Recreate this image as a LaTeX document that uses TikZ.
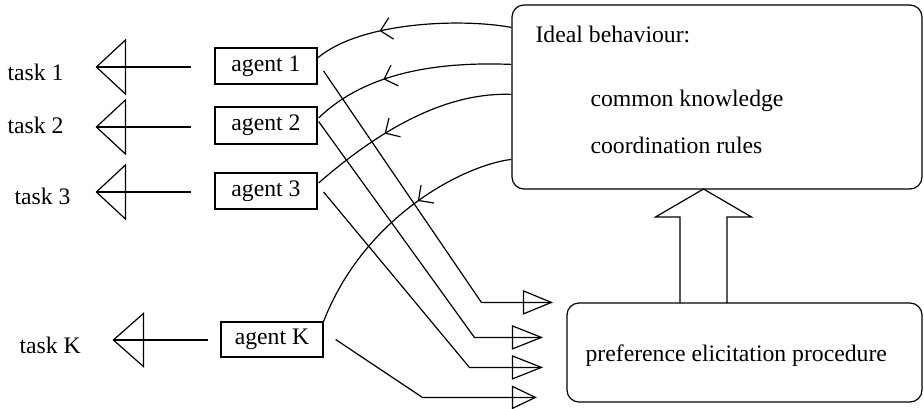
\documentclass[tikz,border=0pt]{standalone}
\usepackage{fontspec}
\setmainfont{Liberation Serif}
\usetikzlibrary{arrows.meta,decorations.markings,calc}
\newcommand{\fsz}{\fontsize{23.7}{28}\selectfont}
\begin{document}
\begin{tikzpicture}[x=1pt,y=-1pt,line width=1.2pt,
  agentbox/.style={draw,minimum width=102pt,minimum height=36pt,inner sep=0pt,font=\fsz},
  txt/.style={inner sep=0pt,anchor=base west,font=\fsz},
  bigbox/.style={draw,rounded corners=12pt,inner sep=0pt},
  chev/.style={postaction={decorate},decoration={markings,mark=at position #1 with {\arrow[line width=1.2pt]{Straight Barb[length=11pt,width=22pt]}}}},
  tri/.style n args={2}{postaction={decorate},decoration={markings,mark=at position 1 with {\draw[line join=miter,line width=1.2pt] (0pt,0pt) -- (-#1,#2) -- (-#1,-#2) -- cycle;}}}]
\useasboundingbox (0,0) rectangle (924,408);

% big boxes
\node[bigbox,minimum width=410pt,minimum height=184pt] (ideal) at (717,97) {};
\node[bigbox,minimum width=355pt,minimum height=99pt] (pref) at (744.5,352.5) {};
\node[txt] (ib) at (535,42) {Ideal behaviour:};
\node[txt] (ck) at (590,106) {common knowledge};
\node[txt] (cr) at (590,153) {coordination rules};
\node[txt] (pe) at (585,361) {preference elicitation procedure};

% agents
\node[agentbox] (a1) at (266,66) {agent 1};
\node[agentbox,minimum height=37pt] (a2) at (266,125.5) {agent 2};
\node[agentbox] (a3) at (266,191) {agent 3};
\node[agentbox,minimum height=35pt] (aK) at (272,339.5) {agent K};

% tasks
\node[txt] (t1) at (7,80) {task 1};
\node[txt] (t2) at (7,133) {task 2};
\node[txt] (t3) at (14,204) {task 3};
\node[txt] (tK) at (19,353) {task K};

% agent -> task arrows
\draw[tri={29pt}{27pt}] ($(a1.west)+(-23,1)$) -- ($(a1.west)+(-118,1)$);
\draw[tri={29pt}{27pt}] ($(a2.west)+(-23,1.5)$) -- ($(a2.west)+(-118,1.5)$);
\draw[tri={29pt}{27pt}] ($(a3.west)+(-23,1)$) -- ($(a3.west)+(-118,1)$);
\draw[tri={30pt}{26.5pt}] ($(aK.west)+(-12,0.5)$) -- ($(aK.west)+(-107,0.5)$);

% ideal -> agents curves
\draw[chev=0.66] ($(ideal.north west)+(0,23)$) .. controls (460,18) and (360,22) .. ($(a1.east)+(0,-8)$);
\draw[chev=0.63] ($(ideal.north west)+(0,60)$) .. controls (450,62) and (370,68) .. ($(a2.east)+(1,-7.5)$);
\draw[chev=0.62] ($(ideal.north west)+(0,90)$) .. controls (450,92) and (385,125) .. ($(a3.east)+(1,-8)$);
\draw[chev=0.4] ($(ideal.north west)+(0,155)$) .. controls (465,165) and (365,215) .. (aK.north east);

% agents -> preference elicitation
\draw[tri={28pt}{11.5pt}] ($(a1.east)+(6,5)$) -- ($(pref.north west)+(-85,0)$) -- ($(pref.north west)+(-15,0)$);
\draw[tri={29pt}{11.5pt}] ($(a2.east)+(1,-4)$) -- ($(pref.north west)+(-92,35)$) -- ($(pref.north west)+(-25,35)$);
\draw[tri={29pt}{11.5pt}] ($(a3.east)+(6,1)$) -- ($(pref.north west)+(-97,65)$) -- ($(pref.north west)+(-25,65)$);
\draw[tri={23pt}{11pt}] ($(aK.east)+(12,0)$) -- ($(pref.north west)+(-144,95)$) -- ($(pref.north west)+(-31,95)$);

% block arrow pref -> ideal
\coordinate (tip) at (703.5,189);
\draw[line join=miter] (680,303) -- (680,217) -- (655.5,217) -- (tip) -- (751.5,217) -- (727,217) -- (727,303);
\end{tikzpicture}
\end{document}
